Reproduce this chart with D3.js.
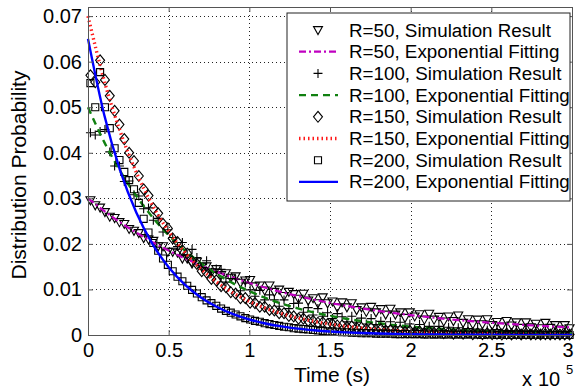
<!DOCTYPE html>
<html lang="en">
<head>
<meta charset="UTF-8">
<title>Distribution Probability</title>
<script src="https://cdnjs.cloudflare.com/ajax/libs/d3/7.8.5/d3.min.js"></script>
<style>
  body { margin: 0; background: #fff; }
  svg { font-family: Arial, "Liberation Sans", sans-serif; }
</style>
</head>
<body>
<div class="chart"></div>
<script>
// time in units of 1e5 s
const simTime = [0.015,0.045,0.075,0.105,0.135,0.165,0.195,0.225,0.255,0.285,
  0.315,0.345,0.375,0.405,0.435,0.465,0.495,0.525,0.555,0.585,
  0.615,0.645,0.675,0.705,0.735,0.765,0.795,0.825,0.855,0.885,
  0.915,0.945,0.975,1.005,1.035,1.065,1.095,1.125,1.155,1.185,
  1.215,1.245,1.275,1.305,1.335,1.365,1.395,1.425,1.455,1.485,
  1.515,1.545,1.575,1.605,1.635,1.665,1.695,1.725,1.755,1.785,
  1.815,1.845,1.875,1.905,1.935,1.965,1.995,2.025,2.055,2.085,
  2.115,2.145,2.175,2.205,2.235,2.265,2.295,2.325,2.355,2.385,
  2.415,2.445,2.475,2.505,2.535,2.565,2.595,2.625,2.655,2.685,
  2.715,2.745,2.775,2.805,2.835,2.865,2.895,2.925,2.955,2.985]

const simR50 = [0.0296,0.0285,0.0280,0.0270,0.0260,0.0257,0.0248,0.0244,0.0233,0.0229,
  0.0224,0.0213,0.0210,0.0207,0.0195,0.0195,0.0183,0.0183,0.0181,0.0168,
  0.0168,0.0157,0.0161,0.0150,0.0151,0.0138,0.0145,0.0132,0.0136,0.0126,
  0.0129,0.0115,0.0120,0.0121,0.0107,0.0109,0.0098,0.0109,0.0095,0.0100,
  0.0086,0.0095,0.0090,0.0080,0.0091,0.0076,0.0081,0.0070,0.0083,0.0070,
  0.0074,0.0061,0.0072,0.0061,0.0070,0.0055,0.0061,0.0051,0.0062,0.0050,
  0.0057,0.0045,0.0058,0.0045,0.0050,0.0038,0.0050,0.0041,0.0046,0.0034,
  0.0047,0.0034,0.0040,0.0030,0.0041,0.0031,0.0043,0.0027,0.0035,0.0024,
  0.0034,0.0024,0.0035,0.0022,0.0029,0.0019,0.0031,0.0021,0.0028,0.0016,
  0.0028,0.0017,0.0025,0.0015,0.0027,0.0016,0.0022,0.0012,0.0022,0.0015]

const simR100 = [0.0444,0.0439,0.0447,0.0451,0.0402,0.0371,0.0371,0.0337,0.0338,0.0308,
  0.0305,0.0277,0.0279,0.0252,0.0256,0.0226,0.0231,0.0214,0.0194,0.0203,
  0.0176,0.0188,0.0170,0.0148,0.0163,0.0138,0.0145,0.0144,0.0116,0.0124,
  0.0123,0.0097,0.0114,0.0099,0.0085,0.0098,0.0077,0.0088,0.0077,0.0063,
  0.0077,0.0058,0.0069,0.0070,0.0050,0.0060,0.0044,0.0058,0.0041,0.0049,
  0.0036,0.0047,0.0040,0.0029,0.0041,0.0028,0.0037,0.0024,0.0036,0.0023,
  0.0030,0.0018,0.0029,0.0018,0.0028,0.0017,0.0024,0.0013,0.0023,0.0013,
  0.0019,0.0011,0.0019,0.0010,0.0017,0.0008,0.0016,0.0008,0.0014,0.0007,
  0.0013,0.0006,0.0011,0.0005,0.0012,0.0004,0.0010,0.0005,0.0009,0.0003,
  0.0009,0.0003,0.0008,0.0003,0.0007,0.0002,0.0007,0.0002,0.0006,0.0002]

const simR150 = [0.0570,0.0555,0.0603,0.0560,0.0525,0.0492,0.0462,0.0430,0.0400,0.0382,
  0.0349,0.0320,0.0306,0.0278,0.0267,0.0244,0.0234,0.0212,0.0204,0.0186,
  0.0179,0.0162,0.0156,0.0140,0.0137,0.0123,0.0120,0.0107,0.0105,0.0094,
  0.0091,0.0081,0.0081,0.0071,0.0070,0.0062,0.0062,0.0055,0.0054,0.0048,
  0.0048,0.0042,0.0041,0.0036,0.0036,0.0031,0.0031,0.0027,0.0028,0.0024,
  0.0024,0.0021,0.0021,0.0018,0.0019,0.0016,0.0016,0.0013,0.0015,0.0012,
  0.0013,0.0010,0.0011,0.0009,0.0010,0.0007,0.0009,0.0006,0.0008,0.0005,
  0.0007,0.0005,0.0006,0.0004,0.0006,0.0003,0.0005,0.0003,0.0005,0.0002,
  0.0004,0.0002,0.0004,0.0002,0.0003,0.0001,0.0003,0.0001,0.0003,0.0001,
  0.0003,0.0001,0.0002,0.0001,0.0002,0.0001,0.0002,0.0001,0.0001,0.0001]

const simR200 = [0.0553,0.0500,0.0577,0.0500,0.0454,0.0410,0.0384,0.0358,0.0340,0.0320,
  0.0290,0.0255,0.0225,0.0202,0.0185,0.0168,0.0154,0.0140,0.0128,0.0118,
  0.0108,0.0099,0.0091,0.0083,0.0076,0.0070,0.0064,0.0058,0.0053,0.0049,
  0.0045,0.0041,0.0037,0.0034,0.0031,0.0029,0.0026,0.0024,0.0022,0.0020,
  0.0018,0.0017,0.0015,0.0014,0.0013,0.0012,0.0011,0.0010,0.0009,0.0008,
  0.0008,0.0007,0.0006,0.0006,0.0005,0.0005,0.0004,0.0004,0.0004,0.0003,
  0.0003,0.0003,0.0003,0.0002,0.0002,0.0002,0.0002,0.0002,0.0002,0.0001,
  0.0001,0.0001,0.0001,0.0001,0.0001,0.0001,0.0001,0.0001,0.0001,0.0001,
  0.0001,0.0000,0.0001,0.0001,0.0000,0.0001,0.0000,0.0000,0.0001,0.0000,
  0.0000,0.0000,0.0001,0.0000,0.0000,0.0000,0.0000,0.0000,0.0000,0.0000]

const fitTime = [0,0.1,0.2,0.3,0.4,0.5,0.6,0.7,0.8,0.9,1.0,1.1,1.2,1.3,1.4,1.5,
  1.6,1.7,1.8,1.9,2.0,2.1,2.2,2.3,2.4,2.5,2.6,2.7,2.8,2.9,3.0]

const fitR50 = [0.03000,0.02724,0.02473,0.02246,0.02039,0.01852,0.01681,0.01527,0.01386,0.01259,
  0.01143,0.01038,0.00942,0.00856,0.00777,0.00705,0.00641,0.00582,0.00528,0.00480,
  0.00436,0.00396,0.00359,0.00326,0.00296,0.00269,0.00244,0.00222,0.00201,0.00183,0.00166]

const fitR100 = [0.05000,0.04239,0.03595,0.03048,0.02584,0.02191,0.01858,0.01575,0.01336,0.01133,
  0.00960,0.00814,0.00690,0.00585,0.00496,0.00421,0.00357,0.00303,0.00257,0.00218,
  0.00184,0.00156,0.00133,0.00113,0.00095,0.00081,0.00069,0.00058,0.00049,0.00042,0.00035]

const fitR150 = [0.07000,0.05590,0.04463,0.03564,0.02846,0.02273,0.01815,0.01449,0.01157,0.00924,
  0.00738,0.00589,0.00470,0.00376,0.00300,0.00240,0.00191,0.00153,0.00122,0.00097,
  0.00078,0.00062,0.00050,0.00040,0.00032,0.00025,0.00020,0.00016,0.00013,0.00010,0.00008]

const fitR200 = [0.06500,0.04839,0.03603,0.02683,0.01997,0.01487,0.01107,0.00824,0.00614,0.00457,
  0.00340,0.00253,0.00189,0.00140,0.00105,0.00078,0.00058,0.00043,0.00032,0.00024,
  0.00018,0.00013,0.00010,0.00007,0.00005,0.00004,0.00003,0.00002,0.00002,0.00001,0.00001]

const xTicks = [0, 0.5, 1, 1.5, 2, 2.5, 3]
const yTicks = [0, 0.01, 0.02, 0.03, 0.04, 0.05, 0.06, 0.07]

const legendLabels = [
  'R=50, Simulation Result', 'R=50, Exponential Fitting',
  'R=100, Simulation Result', 'R=100, Exponential Fitting',
  'R=150, Simulation Result', 'R=150, Exponential Fitting',
  'R=200, Simulation Result', 'R=200, Exponential Fitting'
]

const width = 575
const height = 392
const padding = { top: 7, right: 3, bottom: 57, left: 88 }

const xScale = d3.scaleLinear().domain([0, 3]).range([padding.left, width - padding.right])
const yScale = d3.scaleLinear().domain([0, 0.072]).range([height - padding.bottom, padding.top])

// marker shapes (size 64 -> s = 8)
const triDown = { draw(c, size) { const s = Math.sqrt(size)
  c.moveTo(-0.56 * s, -0.42 * s); c.lineTo(0.56 * s, -0.42 * s); c.lineTo(0, 0.58 * s); c.closePath() } }
const plus = { draw(c, size) { const s = Math.sqrt(size)
  c.moveTo(-0.56 * s, 0); c.lineTo(0.56 * s, 0); c.moveTo(0, -0.56 * s); c.lineTo(0, 0.56 * s) } }
const diamond = { draw(c, size) { const s = Math.sqrt(size)
  c.moveTo(0, -0.68 * s); c.lineTo(0.56 * s, 0); c.lineTo(0, 0.68 * s); c.lineTo(-0.56 * s, 0); c.closePath() } }
const square = { draw(c, size) { const s = Math.sqrt(size) * 0.44
  c.moveTo(-s, -s); c.lineTo(s, -s); c.lineTo(s, s); c.lineTo(-s, s); c.closePath() } }

const series = [
  { sim: simR50, fit: fitR50, symbol: triDown, color: '#c000c0', width: 2.2, dash: '7,3,2,3' },
  { sim: simR100, fit: fitR100, symbol: plus, color: '#108010', width: 2.4, dash: '7,5' },
  { sim: simR150, fit: fitR150, symbol: diamond, color: '#ff1a1a', width: 3.4, dash: '1.5,3' },
  { sim: simR200, fit: fitR200, symbol: square, color: '#0000ff', width: 2.4, dash: null }
]

const svg = d3.select('.chart').append('svg')
  .attr('width', width)
  .attr('height', height)

svg.append('rect').attr('width', width).attr('height', height).attr('fill', '#fff')

// grid
const grid = svg.append('g').attr('class', 'grid')
  .attr('stroke', '#222').attr('stroke-width', 1).attr('stroke-dasharray', '1,3')
grid.selectAll('.gx').data(xTicks.slice(1, -1)).enter().append('line')
  .attr('x1', d => Math.round(xScale(d)) + 0.5).attr('x2', d => Math.round(xScale(d)) + 0.5)
  .attr('y1', yScale.range()[1]).attr('y2', yScale.range()[0])
grid.selectAll('.gy').data(yTicks.slice(1)).enter().append('line')
  .attr('y1', d => Math.round(yScale(d)) + 0.5).attr('y2', d => Math.round(yScale(d)) + 0.5)
  .attr('x1', xScale.range()[0]).attr('x2', xScale.range()[1])

const symbolGen = d3.symbol().size(64)
const line = d3.line()
  .x((d, i) => xScale(fitTime[i]))
  .y(d => yScale(d))
  .curve(d3.curveMonotoneX)

const plotArea = svg.append('g')

series.forEach(s => {
  plotArea.append('g').selectAll('path')
    .data(s.sim).enter().append('path')
    .attr('transform', (d, i) => `translate(${xScale(simTime[i])},${yScale(d)})`)
    .attr('d', symbolGen.type(s.symbol)())
    .attr('fill', 'none').attr('stroke', '#000').attr('stroke-width', 1.1)
  plotArea.append('path')
    .datum(s.fit)
    .attr('d', line)
    .attr('fill', 'none')
    .attr('stroke', s.color)
    .attr('stroke-width', s.width)
    .attr('stroke-dasharray', s.dash)
})

// axes
const axisColor = '#555'
const fmtY = d => d === 0 ? '0' : d3.format('.2f')(d)
const fmtX = d => d % 1 === 0 ? String(d) : d.toFixed(1)

const xAxis = svg.append('g')
  .attr('transform', `translate(0,${yScale(0)})`)
  .call(d3.axisBottom(xScale).tickValues(xTicks).tickFormat(fmtX).tickSizeInner(-5).tickSizeOuter(0).tickPadding(8))
const xAxisTop = svg.append('g')
  .attr('transform', `translate(0,${padding.top})`)
  .call(d3.axisTop(xScale).tickValues(xTicks).tickFormat('').tickSizeInner(-5).tickSizeOuter(0))
const yAxis = svg.append('g')
  .attr('transform', `translate(${padding.left},0)`)
  .call(d3.axisLeft(yScale).tickValues(yTicks).tickFormat(fmtY).tickSizeInner(-5).tickSizeOuter(0).tickPadding(6))
const yAxisRight = svg.append('g')
  .attr('transform', `translate(${width - padding.right},0)`)
  .call(d3.axisRight(yScale).tickValues(yTicks).tickFormat('').tickSizeInner(-5).tickSizeOuter(0))

;[xAxis, xAxisTop, yAxis, yAxisRight].forEach(a => {
  a.selectAll('path, line').attr('stroke', axisColor)
  a.selectAll('text').attr('fill', '#000').attr('font-size', '20px').attr('font-family', 'Arial, "Liberation Sans", sans-serif')
})
// last x label sits against the right edge
xAxis.selectAll('.tick text').filter(d => d === 3).attr('text-anchor', 'end').attr('dx', '1px')

// axis labels
svg.append('text')
  .attr('transform', `translate(26,${(padding.top + height - padding.bottom) / 2 + 4}) rotate(-90)`)
  .attr('text-anchor', 'middle')
  .attr('font-size', '21px')
  .text('Distribution Probability')

svg.append('text')
  .attr('x', (padding.left + width - padding.right) / 2 + 2)
  .attr('y', 382)
  .attr('text-anchor', 'middle')
  .attr('font-size', '21px')
  .text('Time (s)')

const expo = svg.append('g').attr('font-size', '20px')
expo.append('text').attr('x', 522).attr('y', 386).text('x')
expo.append('text').attr('x', 538).attr('y', 386).text('10')
expo.append('text').attr('x', 566).attr('y', 374).attr('font-size', '13px').text('5')

// legend
const legend = svg.append('g').attr('transform', 'translate(287,13)')
legend.append('rect')
  .attr('width', 283).attr('height', 188)
  .attr('fill', '#fff').attr('stroke', '#222').attr('stroke-width', 1)

const rows = legend.selectAll('.row').data(legendLabels).enter().append('g')
  .attr('class', 'row')
  .attr('transform', (d, i) => `translate(0,${17 + i * 21.7})`)

rows.append('text')
  .attr('x', 62)
  .attr('dy', '0.35em')
  .attr('font-size', '18.8px')
  .text(d => d)

rows.each(function (d, i) {
  const s = series[Math.floor(i / 2)]
  const g = d3.select(this)
  if (i % 2 === 0) {
    g.append('path')
      .attr('transform', 'translate(31,0)')
      .attr('d', symbolGen.type(s.symbol)())
      .attr('fill', 'none').attr('stroke', '#000').attr('stroke-width', 1.1)
  } else {
    g.append('line')
      .attr('x1', 12).attr('x2', 51)
      .attr('stroke', s.color)
      .attr('stroke-width', s.width)
      .attr('stroke-dasharray', s.dash)
  }
})
</script>
</body>
</html>
